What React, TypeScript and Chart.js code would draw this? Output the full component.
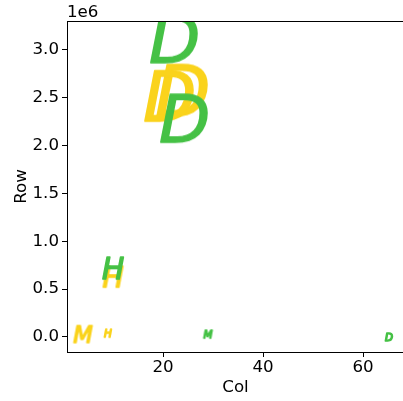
import { useEffect, useRef } from 'react';
import { Chart, registerables } from 'chart.js';

Chart.register(...registerables);

// Green series (drawn on top)
const greenX = [22.2, 24.2, 10.0, 29.0, 65.2];
const greenY = [3.12e6, 2.29e6, 0.72e6, 0.03e6, 0.0];
const greenLetters = ['D', 'D', 'H', 'M', 'D'];
const greenSizes = [50, 50, 23, 10, 9];

// Yellow series
const yellowX = [23.8, 21.2, 10.0, 4.0, 9.0];
const yellowY = [2.58e6, 2.52e6, 0.63e6, 0.03e6, 0.04e6];
const yellowLetters = ['D', 'D', 'H', 'M', 'H'];
const yellowSizes = [54, 52, 22, 20, 9];

const xTicks = [20, 40, 60];
const yTicks = [0, 0.5e6, 1.0e6, 1.5e6, 2.0e6, 2.5e6, 3.0e6];

const GREEN = '#45c145';
const YELLOW = '#fad31c';
const FONT = '"DejaVu Sans", sans-serif';
const FS = 16.67;
const EDGE = 1.4;

function glyph(letter: string, size: number, color: string): HTMLCanvasElement {
  const c = document.createElement('canvas');
  const ctx = c.getContext('2d')!;
  const ref = 100;
  ctx.font = `italic ${ref}px ${FONT}`;
  const m = ctx.measureText(letter);
  const w = m.actualBoundingBoxLeft + m.actualBoundingBoxRight;
  const h = m.actualBoundingBoxAscent + m.actualBoundingBoxDescent;
  const s = Math.max(size - EDGE, 2) / Math.max(w, h);
  const pad = 3;
  c.width = Math.ceil(w * s + 2 * pad);
  c.height = Math.ceil(h * s + 2 * pad);
  const g = c.getContext('2d')!;
  g.font = `italic ${ref * s}px ${FONT}`;
  g.fillStyle = color;
  g.strokeStyle = color;
  g.lineWidth = EDGE;
  g.lineJoin = 'round';
  g.textAlign = 'left';
  g.textBaseline = 'alphabetic';
  const cx = c.width / 2;
  const cy = c.height / 2;
  const x = cx - ((m.actualBoundingBoxRight - m.actualBoundingBoxLeft) * s) / 2;
  const y = cy + ((m.actualBoundingBoxAscent - m.actualBoundingBoxDescent) * s) / 2;
  g.fillText(letter, x, y);
  g.strokeText(letter, x, y);
  return c;
}

const framePlugin = {
  id: 'frame',
  afterDraw(chart: any) {
    const { ctx, chartArea: a } = chart;
    ctx.save();
    ctx.strokeStyle = '#000';
    ctx.lineWidth = 1;
    ctx.strokeRect(a.left + 0.5, a.top + 0.5, a.right - a.left - 1, a.bottom - a.top);
    ctx.font = `${FS}px ${FONT}`;
    ctx.fillStyle = '#000';
    ctx.textAlign = 'left';
    ctx.textBaseline = 'alphabetic';
    ctx.fillText('1e6', a.left, a.top - 4);
    ctx.restore();
  },
};

export default function App() {
  const ref = useRef<HTMLCanvasElement>(null);

  useEffect(() => {
    if (!ref.current) return;
    Chart.defaults.font.family = FONT;
    Chart.defaults.font.size = FS;
    Chart.defaults.color = '#000';

    const chart = new Chart(ref.current, {
      type: 'scatter',
      data: {
        datasets: [
          {
            label: 'green',
            data: greenX.map((x, i) => ({ x, y: greenY[i] })),
            pointStyle: greenLetters.map((l, i) => glyph(l, greenSizes[i], GREEN)) as any,
            pointRadius: 5,
            clip: 0,
          },
          {
            label: 'yellow',
            data: yellowX.map((x, i) => ({ x, y: yellowY[i] })),
            pointStyle: yellowLetters.map((l, i) => glyph(l, yellowSizes[i], YELLOW)) as any,
            pointRadius: 5,
            clip: 0,
          },
        ],
      },
      options: {
        animation: false,
        responsive: false,
        events: [],
        layout: { autoPadding: false, padding: { top: 21, left: 0, right: 0, bottom: 0 } },
        plugins: { legend: { display: false }, tooltip: { enabled: false } },
        scales: {
          x: {
            type: 'linear',
            min: 0.8,
            max: 68.2,
            afterBuildTicks: (s: any) => {
              s.ticks = xTicks.map((v) => ({ value: v }));
            },
            afterFit: (s: any) => {
              s.height = 49;
              s.paddingLeft = 0;
              s.paddingRight = 0;
            },
            ticks: { padding: 1, maxRotation: 0, autoSkip: false, color: '#000', font: { size: FS } },
            grid: { drawOnChartArea: false, drawTicks: true, tickLength: 5, color: '#000', lineWidth: 1 },
            border: { display: false },
            title: { display: true, text: 'Col', color: '#000', font: { size: FS }, padding: { top: 0, bottom: 3.5 } },
          },
          y: {
            type: 'linear',
            min: -0.157e6,
            max: 3.30e6,
            afterBuildTicks: (s: any) => {
              s.ticks = yTicks.map((v) => ({ value: v }));
            },
            afterFit: (s: any) => {
              s.width = 67;
              s.paddingTop = 0;
              s.paddingBottom = 0;
            },
            ticks: {
              padding: 3,
              autoSkip: false,
              color: '#000',
              font: { size: FS },
              callback: (v: any) => (Number(v) / 1e6).toFixed(1),
            },
            grid: { drawOnChartArea: false, drawTicks: true, tickLength: 5, color: '#000', lineWidth: 1 },
            border: { display: false },
            title: { display: true, text: 'Row', color: '#000', font: { size: FS }, padding: { top: 12, bottom: 0 } },
          },
        },
      },
      plugins: [framePlugin],
    });
    return () => chart.destroy();
  }, []);

  return (
    <div style={{ position: 'fixed', left: 0, top: 0, width: 403, height: 401, overflow: 'hidden', background: '#fff' }}>
      <canvas ref={ref} width={404} height={401} style={{ display: 'block' }} />
    </div>
  );
}
